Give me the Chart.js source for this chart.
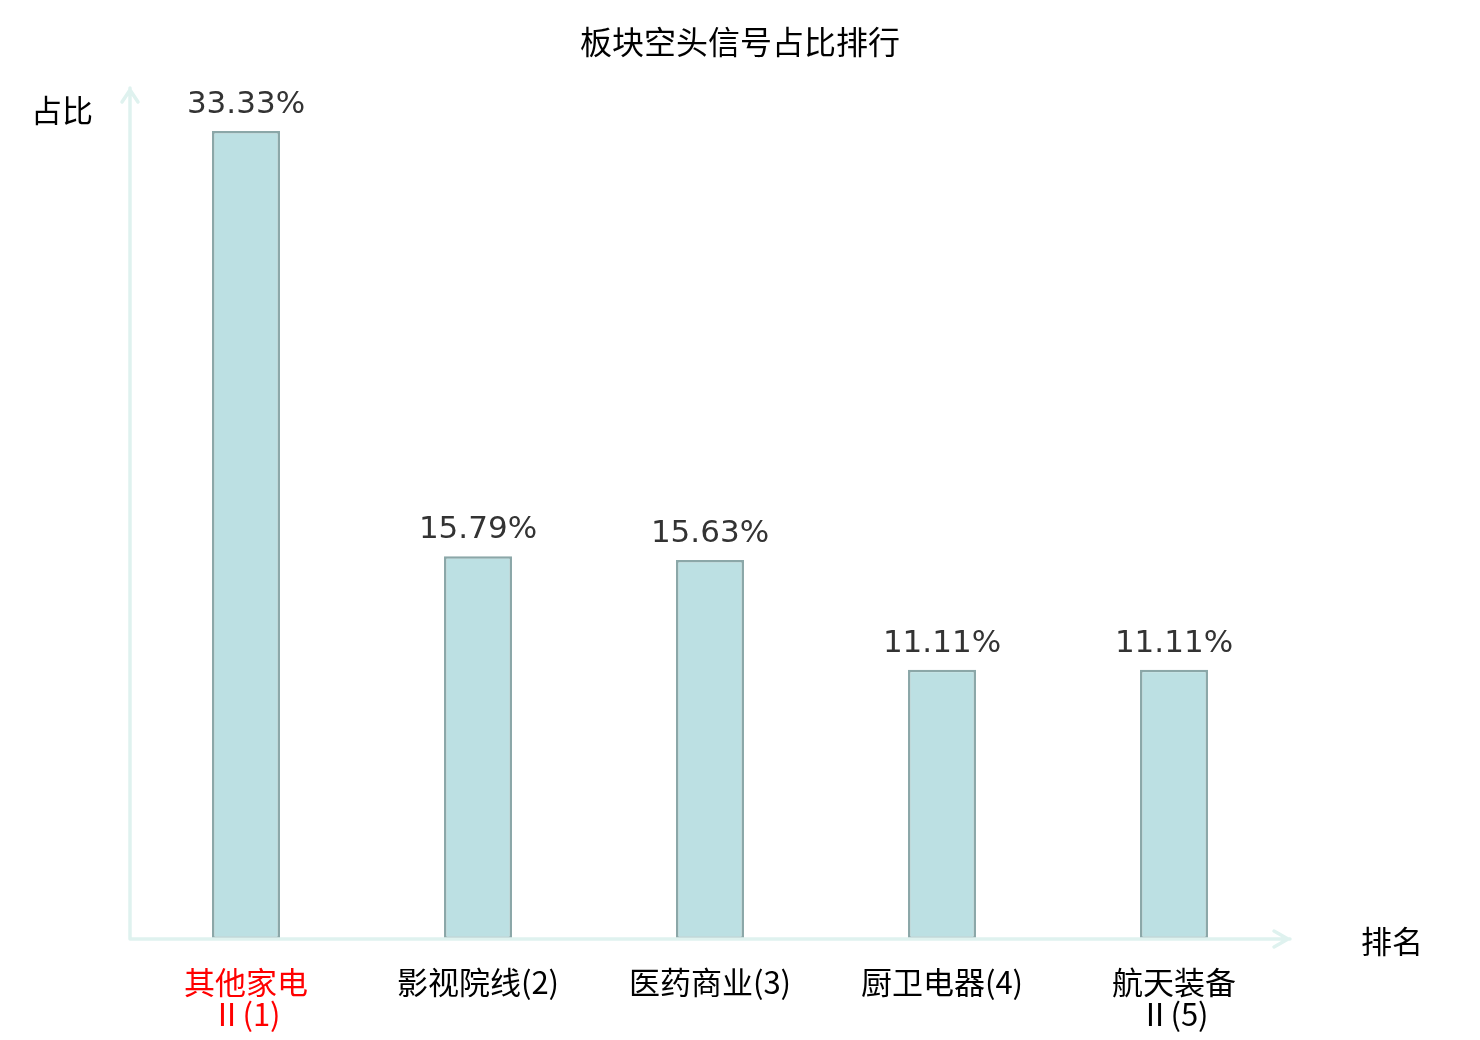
<!DOCTYPE html>
<html>
<head>
<meta charset="utf-8">
<title>板块空头信号占比排行</title>
<script src="https://cdn.jsdelivr.net/npm/chart.js@4.4.1/dist/chart.umd.min.js"></script>
<style>
  html, body { margin: 0; padding: 0; background: #fff; }
  #wrap { width: 1480px; height: 1040px; }
</style>
</head>
<body>
<div id="wrap"><canvas id="grafico" width="1480" height="1040"></canvas></div>
<script>
/* dados do gráfico */
const categorias = [['其他家电', 'Ⅱ(1)'], '影视院线(2)', '医药商业(3)', '厨卫电器(4)', ['航天装备', 'Ⅱ(5)']];
const percentuais = [33.33, 15.79, 15.63, 11.11, 11.11];
const coresRotulos = ['#ff0000', '#000000', '#000000', '#000000', '#000000'];
const titulo = '板块空头信号占比排行';
const nomeEixoY = '占比';
const nomeEixoX = '排名';
const maxEixoY = 35.1;

const corEixo = '#dff2ef';
const fonteNum = '"DejaVu Sans", "Noto Sans CJK SC", sans-serif';
const fonteCjk = '"Noto Sans CJK SC", "DejaVu Sans", sans-serif';

/* título, eixos com seta, nomes dos eixos e valores em cima das barras */
const extras = {
  id: 'extras',
  afterDatasetsDraw(chart) {
    const ctx = chart.ctx;
    const area = chart.chartArea;
    const meta = chart.getDatasetMeta(0);

    ctx.save();
    ctx.strokeStyle = corEixo;
    ctx.lineWidth = 3.5;
    ctx.lineCap = 'round';
    ctx.beginPath();
    ctx.moveTo(area.left, area.bottom);
    ctx.lineTo(area.left, area.top);
    ctx.moveTo(area.left - 8, area.top + 14);
    ctx.lineTo(area.left, area.top + 2);
    ctx.lineTo(area.left + 8, area.top + 14);
    ctx.moveTo(area.left, area.bottom);
    ctx.lineTo(area.right, area.bottom);
    ctx.moveTo(area.right - 16, area.bottom - 8);
    ctx.lineTo(area.right - 2, area.bottom);
    ctx.lineTo(area.right - 16, area.bottom + 8);
    ctx.stroke();

    ctx.fillStyle = '#000';
    ctx.font = '32px ' + fonteCjk;
    ctx.textBaseline = 'middle';
    ctx.textAlign = 'center';
    ctx.fillText(titulo, chart.width / 2, 42);

    ctx.font = '31px ' + fonteCjk;
    ctx.textAlign = 'right';
    ctx.fillText(nomeEixoY, area.left - 37, area.top + 22);
    ctx.textAlign = 'left';
    ctx.fillText(nomeEixoX, area.right + 71, area.bottom + 2);

    ctx.fillStyle = '#333';
    ctx.font = '31px ' + fonteNum;
    ctx.textAlign = 'center';
    ctx.textBaseline = 'alphabetic';
    meta.data.forEach((barra, i) => {
      ctx.fillText(percentuais[i].toFixed(2) + '%', barra.x, barra.y - 18);
    });
    ctx.restore();
  }
};

const ctx = document.getElementById('grafico');
const grafico = new Chart(ctx, {
  type: 'bar',
  data: {
    labels: categorias,
    datasets: [{
      data: percentuais,
      backgroundColor: '#bce0e3',
      borderColor: '#8ba7a8',
      borderWidth: 2.5,
      borderSkipped: false,
      categoryPercentage: 1,
      barPercentage: 0.293
    }]
  },
  options: {
    responsive: false,
    devicePixelRatio: 1,
    animation: false,
    layout: { padding: { left: 130, right: 190, top: 88, bottom: 0 } },
    plugins: {
      legend: { display: false },
      tooltip: { enabled: false },
      title: { display: false }
    },
    scales: {
      x: {
        grid: { display: false, drawTicks: false },
        border: { display: false },
        ticks: {
          padding: 27,
          maxRotation: 0,
          autoSkip: false,
          color: (c) => coresRotulos[c.index],
          font: { family: fonteCjk, size: 31, lineHeight: 1.04 }
        },
        afterFit(scale) { scale.height = 101; }
      },
      y: {
        display: false,
        min: 0,
        max: maxEixoY
      }
    }
  },
  plugins: [extras]
});
</script>
</body>
</html>
